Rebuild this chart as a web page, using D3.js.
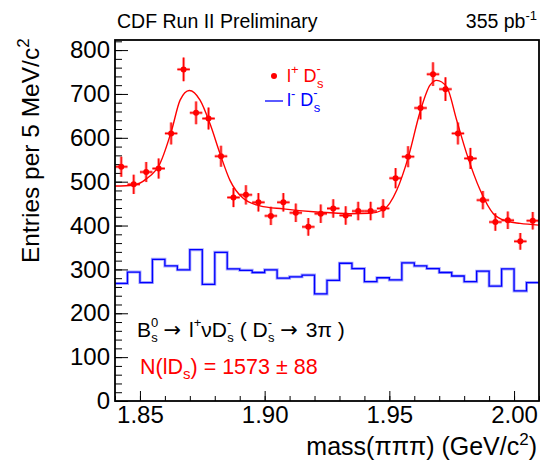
<!DOCTYPE html>
<html>
<head>
<meta charset="utf-8">
<script src="https://cdn.jsdelivr.net/npm/d3@7/dist/d3.min.js"></script>
<style>
  html, body { margin: 0; padding: 0; background: #fff; }
  svg { display: block; font-family: "Liberation Sans", Arial, Helvetica, sans-serif; }
</style>
</head>
<body>
<svg id="chart" width="548" height="464"></svg>
<script>
// ---- data ----
const massCenters = [1.8425,1.8475,1.8525,1.8575,1.8625,1.8675,1.8725,1.8775,1.8825,1.8875,
  1.8925,1.8975,1.9025,1.9075,1.9125,1.9175,1.9225,1.9275,1.9325,1.9375,
  1.9425,1.9475,1.9525,1.9575,1.9625,1.9675,1.9725,1.9775,1.9825,1.9875,
  1.9925,1.9975,2.0025,2.0075];
const binHalfWidth = 0.0025;
const rightSign = [534,494,522,530,610,756,657,644,558,464,470,453,422,453,429,397,427,439,423,433,
  433,439,508,557,668,745,711,610,553,458,408,412,364,411];
const rightSignErr = [23,22,23,23,25,27,26,25,24,22,22,21,21,21,21,20,21,21,21,21,
  21,21,23,24,26,27,27,25,24,21,20,20,19,20];
const wrongSign = [268,294,270,323,308,299,345,266,339,301,298,293,299,280,283,287,244,275,314,302,
  272,281,276,315,308,302,293,285,272,296,262,301,251,270];
const fitMass = [1.840,1.8473,1.8527,1.8580,1.8627,1.8661,1.8698,1.8741,1.8781,1.8821,1.8861,1.8914,
  1.8981,1.9075,1.9209,1.9342,1.9422,1.9476,1.9530,1.9576,1.9623,1.9663,1.9690,1.9730,1.9770,
  1.9810,1.9864,1.9917,1.9971,2.0024,2.0100];
const fitValue = [490,492,507,541,617,686,708,686,632,564,503,462,
  445,438,431,427,428,436,481,556,659,720,731,716,640,
  564,481,427,410,405,401];
const yMajorTicks = [0,100,200,300,400,500,600,700,800];
const xMajorTicks = [1.85,1.90,1.95,2.00];

// ---- layout ----
const L = 115, R = 539, T = 40, B = 401;
const svg = d3.select("#chart");
const x = d3.scaleLinear().domain([1.84, 2.01]).range([L, R]);
const y = d3.scaleLinear().domain([0, 823]).range([B, T]);

// axes
const yMinor = d3.range(0, 821, 20);
svg.append("g").attr("transform", `translate(${L},0)`)
  .call(d3.axisLeft(y).tickValues(yMinor).tickSize(-7).tickFormat(""))
  .call(g => g.select(".domain").remove())
  .call(g => g.selectAll("line").attr("stroke", "#000").attr("stroke-width", 1));
svg.append("g").attr("transform", `translate(${L},0)`)
  .call(d3.axisLeft(y).tickValues(yMajorTicks).tickSizeInner(-13).tickSizeOuter(0).tickPadding(5).tickFormat(d3.format("d")))
  .call(g => g.select(".domain").remove())
  .call(g => g.selectAll("line").attr("stroke", "#000").attr("stroke-width", 1))
  .call(g => g.selectAll("text").attr("font-size", 24).attr("fill", "#000")
    .attr("font-family", "'Liberation Sans', Arial, sans-serif"));

const xMinor = d3.range(184, 202, 1).map(v => v / 100);
svg.append("g").attr("transform", `translate(0,${B})`)
  .call(d3.axisBottom(x).tickValues(xMinor).tickSize(-5).tickFormat(""))
  .call(g => g.select(".domain").remove())
  .call(g => g.selectAll("line").attr("stroke", "#000").attr("stroke-width", 1));
svg.append("g").attr("transform", `translate(0,${B})`)
  .call(d3.axisBottom(x).tickValues(xMajorTicks).tickSizeInner(-10).tickSizeOuter(0).tickPadding(5).tickFormat(d3.format(".2f")))
  .call(g => g.select(".domain").remove())
  .call(g => g.selectAll("line").attr("stroke", "#000").attr("stroke-width", 1))
  .call(g => g.selectAll("text").attr("font-size", 24).attr("fill", "#000")
    .attr("font-family", "'Liberation Sans', Arial, sans-serif"));

// wrong-sign histogram
const histPts = [];
massCenters.forEach((m, i) => {
  histPts.push([m - binHalfWidth, wrongSign[i]]);
  histPts.push([m + binHalfWidth, wrongSign[i]]);
});
const histLine = d3.line().x(d => x(d[0])).y(d => y(d[1]));
svg.append("path").attr("d", histLine(histPts)).attr("fill", "none")
  .attr("stroke", "rgba(0,0,255,0.35)").attr("stroke-width", 3);
svg.append("path").attr("d", histLine(histPts)).attr("fill", "none")
  .attr("stroke", "#0000ff").attr("stroke-width", 1.3);

// fit curve
const fitLine = d3.line().x((d, i) => x(fitMass[i])).y(d => y(d)).curve(d3.curveMonotoneX);
svg.append("path").attr("d", fitLine(fitValue)).attr("fill", "none")
  .attr("stroke", "#ff0000").attr("stroke-width", 1.4);

// right-sign data points
const pts = svg.append("g");
massCenters.forEach((m, i) => {
  const v = rightSign[i], e = rightSignErr[i];
  const g = pts.append("g");
  [["rgba(255,0,0,0.45)", 3], ["#ff0000", 1.2]].forEach(([c, w]) => {
    g.append("line").attr("x1", x(m)).attr("x2", x(m)).attr("y1", y(v - e)).attr("y2", y(v + e))
      .attr("stroke", c).attr("stroke-width", w);
    g.append("line").attr("x1", x(m - binHalfWidth)).attr("x2", x(m + binHalfWidth)).attr("y1", y(v)).attr("y2", y(v))
      .attr("stroke", c).attr("stroke-width", w);
  });
  g.append("circle").attr("cx", x(m)).attr("cy", y(v)).attr("r", 3).attr("fill", "#ff0000");
});

// frame
svg.append("rect").attr("x", L).attr("y", T).attr("width", R - L).attr("height", B - T)
  .attr("fill", "none").attr("stroke", "#000").attr("stroke-width", 1.8);

// titles
svg.append("text").attr("x", 117).attr("y", 28).attr("font-size", 19.5).text("CDF Run II Preliminary");
const lum = svg.append("text").attr("x", 537).attr("y", 28).attr("font-size", 19.5).attr("text-anchor", "end");
lum.append("tspan").text("355 pb");
lum.append("tspan").attr("dy", -8).attr("font-size", 13).text("-1");

const yt = svg.append("text").attr("transform", "translate(39,263) rotate(-90)").attr("font-size", 24.5);
yt.append("tspan").text("Entries per 5 MeV/c");
yt.append("tspan").attr("dy", -10).attr("font-size", 17).text("2");

const xt = svg.append("text").attr("x", 537).attr("y", 455).attr("font-size", 25).attr("text-anchor", "end");
xt.append("tspan").text("mass(πππ) (GeV/c");
xt.append("tspan").attr("dy", -10).attr("font-size", 17).text("2");
xt.append("tspan").attr("dy", 10).text(")");

// legend
svg.append("circle").attr("cx", 274).attr("cy", 76).attr("r", 3).attr("fill", "#ff0000");
const lg1 = svg.append("text").attr("x", 287).attr("y", 82).attr("font-size", 18).attr("fill", "#ff0000");
lg1.append("tspan").text("l");
lg1.append("tspan").attr("dy", -8).attr("font-size", 13).text("+");
lg1.append("tspan").attr("dy", 8).text(" D");
lg1.append("tspan").attr("dy", -9).attr("font-size", 13).text("-");
lg1.append("tspan").attr("dx", -4).attr("dy", 15).attr("font-size", 13).text("s");

svg.append("line").attr("x1", 265).attr("x2", 283).attr("y1", 101).attr("y2", 101)
  .attr("stroke", "#0000ff").attr("stroke-width", 1.3);
const lg2 = svg.append("text").attr("x", 287).attr("y", 106).attr("font-size", 18).attr("fill", "#0000ff");
lg2.append("tspan").text("l");
lg2.append("tspan").attr("dy", -8).attr("font-size", 13).text("-");
lg2.append("tspan").attr("dy", 8).text(" D");
lg2.append("tspan").attr("dy", -9).attr("font-size", 13).text("-");
lg2.append("tspan").attr("dx", -4).attr("dy", 15).attr("font-size", 13).text("s");

// annotations
const an = svg.append("text").attr("x", 137).attr("y", 337).attr("font-size", 21);
const arrowFont = "'DejaVu Sans', sans-serif";
an.append("tspan").text("B");
an.append("tspan").attr("dy", -10).attr("font-size", 13).text("0");
an.append("tspan").attr("dx", -7).attr("dy", 15).attr("font-size", 13).text("s");
an.append("tspan").attr("dy", -5).text(" ");
an.append("tspan").attr("font-family", arrowFont).text("→");
an.append("tspan").attr("dx", 2).text(" l");
an.append("tspan").attr("dy", -10).attr("font-size", 13).text("+");
an.append("tspan").attr("dy", 10).text("νD");
an.append("tspan").attr("dy", -10).attr("font-size", 13).text("-");
an.append("tspan").attr("dx", -4).attr("dy", 15).attr("font-size", 13).text("s");
an.append("tspan").attr("dy", -5).text(" ( D");
an.append("tspan").attr("dy", -10).attr("font-size", 13).text("-");
an.append("tspan").attr("dx", -4).attr("dy", 15).attr("font-size", 13).text("s");
an.append("tspan").attr("dy", -5).text(" ");
an.append("tspan").attr("font-family", arrowFont).text("→");
an.append("tspan").attr("dx", 2).text(" 3π )");

const nt = svg.append("text").attr("x", 140).attr("y", 374).attr("font-size", 21.5).attr("fill", "#ff0000");
nt.append("tspan").text("N(lD");
nt.append("tspan").attr("dy", 5).attr("font-size", 15).text("s");
nt.append("tspan").attr("dy", -5).text(") = 1573 ± 88");
</script>
</body>
</html>
